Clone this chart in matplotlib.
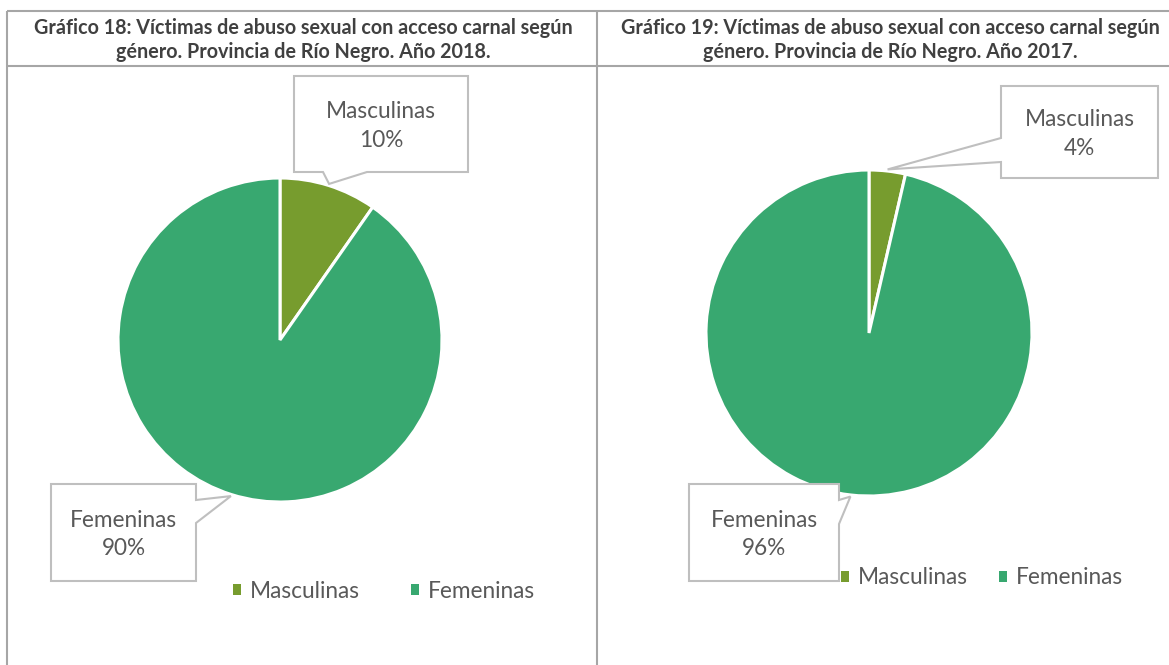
import matplotlib
matplotlib.use("Agg")
import matplotlib.pyplot as plt
from matplotlib.patches import Polygon, Patch
import numpy as np

# ---------------- data ----------------
categories = ["Masculinas", "Femeninas"]
values_2018 = [9.7, 90.3]
values_2017 = [3.6, 96.4]
title_2018 = ("Gráfico 18: Víctimas de abuso sexual con acceso carnal según\n"
              "género. Provincia de Río Negro. Año 2018.")
title_2017 = ("Gráfico 19: Víctimas de abuso sexual con acceso carnal según\n"
              "género. Provincia de Río Negro. Año 2017.")

# ---------------- style ----------------
colors = ["#779C2E", "#38A870"]
text_color = "#595959"
title_color = "#404040"
grid_color = "#A6A6A6"
callout_edge = "#BFBFBF"
plt.rcParams["font.family"] = ["Lato", "DejaVu Sans"]

W, H = 1169, 665
fig = plt.figure(figsize=(W / 100, H / 100), dpi=100)


def px_axes(x0, y0, x1, y1):
    return fig.add_axes([x0 / W, 1 - y1 / H, (x1 - x0) / W, (y1 - y0) / H])


panels = [
    dict(values=values_2018, title=title_2018, title_x=303, cx=280, cy=340, r=162,
         boxes=[dict(rect=(294, 76, 468, 172), side="bottom", base=(323, 367)),
                dict(rect=(51, 484, 196, 581), side="right", base=(500, 523))],
         legend=(384, 591), colspace=2.25),
    dict(values=values_2017, title=title_2017, title_x=890, cx=869, cy=333, r=163,
         boxes=[dict(rect=(1001, 86, 1158, 178), side="left", base=(138, 162)),
                dict(rect=(689, 484, 839, 581), side="right", base=(500, 524))],
         legend=(982, 578), colspace=1.35),
]

LABEL_FS = 16.3

# pies
for p in panels:
    cx, cy, r = p["cx"], p["cy"], p["r"]
    ax = px_axes(cx - r, cy - r, cx + r, cy + r)
    wedges, _ = ax.pie(p["values"], colors=colors, startangle=90, counterclock=False,
                       radius=1.0, wedgeprops=dict(edgecolor="white", linewidth=2.2))
    ax.set_xlim(-1, 1)
    ax.set_ylim(-1, 1)
    ax.set_aspect("equal")
    ax.axis("off")
    p["wedges"] = wedges
    vals = np.array(p["values"], dtype=float)
    cum = np.cumsum(vals) / vals.sum() * 360
    starts = np.concatenate([[0], cum[:-1]])
    p["mids"] = (starts + cum) / 2

# overlay in pixel coordinates
ov = fig.add_axes([0, 0, 1, 1])
ov.set_xlim(0, W)
ov.set_ylim(H, 0)
ov.axis("off")
ov.patch.set_alpha(0)

# table grid
lw_grid = 1.5
for xs, ys in [([7, 7], [11, H]), ([597, 597], [11, H]), ([7, W], [11, 11]), ([7, W], [66, 66])]:
    ov.plot(xs, ys, color=grid_color, lw=lw_grid, solid_capstyle="butt")

for p in panels:
    ov.text(p["title_x"], 40, p["title"], ha="center", va="center", fontsize=14.2,
            fontweight="bold", color=title_color, linespacing=1.3)
    cx, cy, r = p["cx"], p["cy"], p["r"]
    for i, b in enumerate(p["boxes"]):
        th = np.deg2rad(p["mids"][i])
        tip = (cx + 1.01 * r * np.sin(th), cy - 1.01 * r * np.cos(th))
        x0, y0, x1, y1 = b["rect"]
        b1, b2 = b["base"]
        if b["side"] == "bottom":
            pts = [(x0, y0), (x1, y0), (x1, y1), (b2, y1), tip, (b1, y1), (x0, y1)]
        elif b["side"] == "right":
            pts = [(x0, y0), (x1, y0), (x1, b1), tip, (x1, b2), (x1, y1), (x0, y1)]
        else:
            pts = [(x0, y0), (x1, y0), (x1, y1), (x0, y1), (x0, b2), tip, (x0, b1)]
        ov.add_patch(Polygon(pts, closed=True, facecolor="white", edgecolor=callout_edge,
                             lw=1.5, joinstyle="miter"))
        label = f"{categories[i]}\n{round(p['values'][i])}%"
        ov.text((x0 + x1) / 2, (y0 + y1) / 2 + 2, label, ha="center", va="center",
                fontsize=LABEL_FS, color=text_color, linespacing=1.45)
    lx, ly = p["legend"]
    handles = [Patch(facecolor=w.get_facecolor(), edgecolor="none") for w in p["wedges"]]
    fig.legend(handles, categories, loc="center",
               bbox_to_anchor=(lx / W, 1 - ly / H), ncol=2, frameon=False,
               fontsize=LABEL_FS, labelcolor=text_color, handlelength=0.36, handleheight=0.36,
               handletextpad=0.4, columnspacing=p["colspace"], borderpad=0, borderaxespad=0)

fig.savefig("out.png", dpi=100)
